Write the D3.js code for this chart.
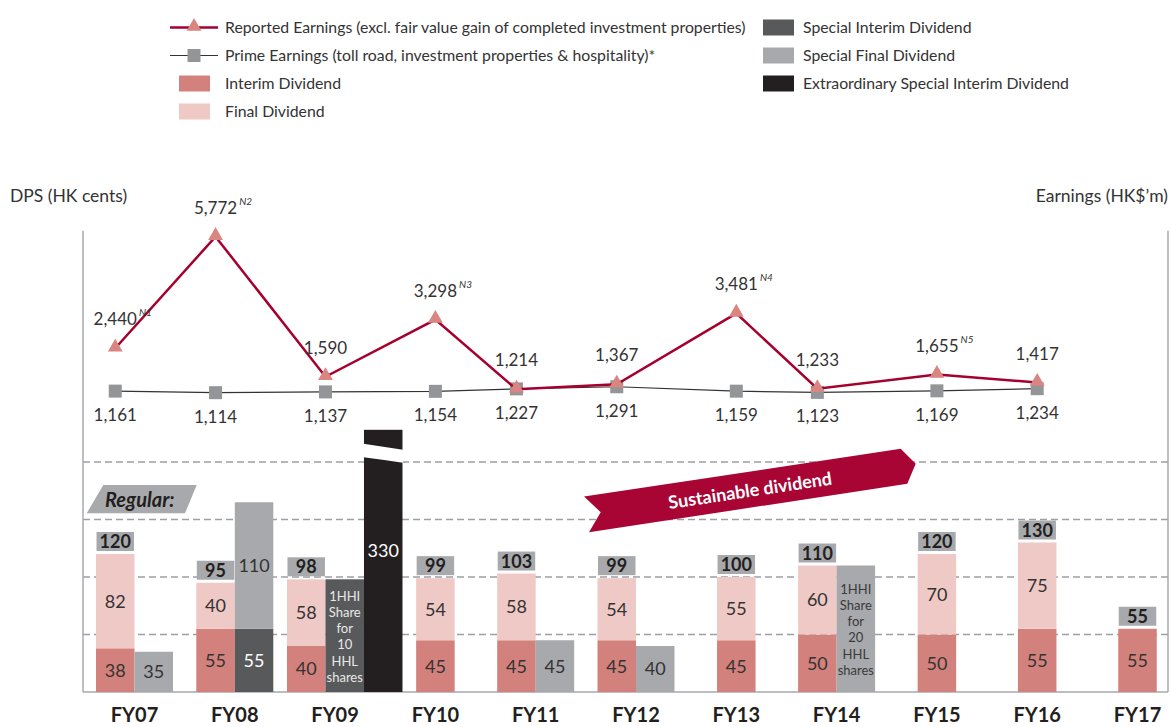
<!DOCTYPE html>
<head>
  <meta charset="utf-8">
  <script src="https://cdn.jsdelivr.net/npm/d3@7"></script>
  <style>
    body { margin: 0; background: #fff; }
    svg { font-family: Lato, "Noto Sans", sans-serif; }
  </style>
</head>
<body>
<div id="container"></div>
<script>

  // ---- data ----
  let years = ["FY07", "FY08", "FY09", "FY10", "FY11", "FY12", "FY13", "FY14", "FY15", "FY16", "FY17"];
  let interim = [38, 55, 40, 45, 45, 45, 45, 50, 50, 55, 55];
  let finalDiv = [82, 40, 58, 54, 58, 54, 55, 60, 70, 75, 0];
  let regularTotal = [120, 95, 98, 99, 103, 99, 100, 110, 120, 130, 55];
  let specialInterim = [0, 55, 98, 0, 0, 0, 0, 0, 0, 0, 0];
  let specialFinal = [35, 110, 0, 0, 45, 40, 0, 110, 0, 0, 0];
  let specialNote = ["", "", "1HHI|Share|for|10|HHL|shares", "", "", "", "", "1HHI|Share|for|20|HHL|shares", "", "", ""];
  let extraordinary = [0, 0, 330, 0, 0, 0, 0, 0, 0, 0, 0];

  let earnYears = ["FY07", "FY08", "FY09", "FY10", "FY11", "FY12", "FY13", "FY14", "FY15", "FY16"];
  let reported = [2440, 5772, 1590, 3298, 1214, 1367, 3481, 1233, 1655, 1417];
  let reportedNote = ["N1", "N2", "", "N3", "", "", "N4", "", "N5", ""];
  let prime = [1161, 1114, 1137, 1154, 1227, 1291, 1159, 1123, 1169, 1234];

  let gridValues = [50, 100, 150, 200];
  let breakCap = 228;   // the 330 bar is drawn cut off at this height

  let colors = {
    interim: "#d3817c",
    final: "#efc9c5",
    specialInterim: "#58595b",
    specialFinal: "#a7a9ac",
    extra: "#231f20",
    reportedLine: "#a6002f",
    reportedMark: "#d98581",
    primeLine: "#333333",
    primeMark: "#939598",
    banner: "#a80535",
    text: "#333333"
  };

  let svg_width = 1171;
  let svg_height = 727;
  let axisLeft = 83;
  let axisRight = 1168;
  let bw = 38.5;

  let svg = d3.select("#container").append("svg")
          .attr("width", svg_width)
          .attr("height", svg_height);

  let xScale = d3.scalePoint()
          .domain(years)
          .range([134.5, 1137.5]);

  let yBar = d3.scaleLinear()
          .domain([0, 200])
          .range([692, 462]);

  let yEarn = d3.scaleLinear()
          .domain([0, 6000])
          .range([430, 229]);

  // left edge of the regular column for each year
  let colLeft = function (i) {
    let ncol = (specialInterim[i] > 0 || specialFinal[i] > 0) ? 2 : 1;
    if (extraordinary[i] > 0) ncol = ncol + 0.5;
    return xScale(years[i]) - ncol * bw / 2;
  };

  // ---- grid & frame ----
  svg.selectAll(".grid")
          .data(gridValues)
          .enter()
          .append("line")
          .attr("x1", axisLeft)
          .attr("x2", axisRight)
          .attr("y1", function (d) { return yBar(d) })
          .attr("y2", function (d) { return yBar(d) })
          .attr("stroke", "#9d9fa2")
          .attr("stroke-width", 1.3)
          .attr("stroke-dasharray", "7,4");

  svg.append("line")
          .attr("x1", axisLeft).attr("x2", axisRight)
          .attr("y1", yBar(0)).attr("y2", yBar(0))
          .attr("stroke", "#a7a9ac").attr("stroke-width", 1.5);

  [axisLeft, axisRight].forEach(function (x) {
    svg.append("line")
            .attr("x1", x).attr("x2", x)
            .attr("y1", yEarn(5950)).attr("y2", yBar(0))
            .attr("stroke", "#a7a9ac").attr("stroke-width", 1.5);
  });

  // ---- bars ----
  let segs = [];
  years.forEach(function (y, i) {
    let left = colLeft(i);
    segs.push({x: left, y0: 0, y1: interim[i], fill: colors.interim, label: interim[i], tc: colors.text});
    if (finalDiv[i] > 0) {
      segs.push({x: left, y0: interim[i], y1: interim[i] + finalDiv[i], fill: colors.final, label: finalDiv[i], tc: colors.text});
    }
    let col = 1;
    if (specialInterim[i] > 0 || specialFinal[i] > 0) {
      let sx = left + bw;
      if (specialInterim[i] > 0) {
        segs.push({x: sx, y0: 0, y1: specialInterim[i], fill: colors.specialInterim,
          label: specialNote[i] && specialFinal[i] === 0 ? "" : specialInterim[i], note: specialFinal[i] === 0 ? specialNote[i] : "", tc: "#ffffff"});
      }
      if (specialFinal[i] > 0) {
        segs.push({x: sx, y0: specialInterim[i], y1: specialInterim[i] + specialFinal[i], fill: colors.specialFinal,
          label: specialNote[i] ? "" : specialFinal[i], note: specialNote[i], tc: colors.text});
      }
      col = 2;
    }
    if (extraordinary[i] > 0) {
      segs.push({x: left + col * bw, y0: 0, y1: Math.min(extraordinary[i], breakCap), fill: colors.extra,
        label: extraordinary[i], tc: "#ffffff", broken: true});
    }
  });

  svg.selectAll(".seg")
          .data(segs)
          .enter()
          .append("rect")
          .attr("x", function (d) { return d.x })
          .attr("y", function (d) { return yBar(d.y1) })
          .attr("width", bw)
          .attr("height", function (d) { return yBar(d.y0) - yBar(d.y1) })
          .attr("fill", function (d) { return d.fill });

  // break on the extraordinary bar
  segs.filter(function (d) { return d.broken }).forEach(function (d) {
    let top = yBar(d.y1);
    svg.append("path")
            .attr("d", "M" + (d.x - 0.5) + "," + (top + 14) +
                    " Q" + (d.x + bw / 2) + "," + (top + 17) + " " + (d.x + bw + 0.5) + "," + (top + 20) +
                    " L" + (d.x + bw + 0.5) + "," + (top + 33) +
                    " Q" + (d.x + bw / 2) + "," + (top + 30) + " " + (d.x - 0.5) + "," + (top + 27.5) + " Z")
            .attr("fill", "#ffffff");
  });

  svg.selectAll(".seglabel")
          .data(segs.filter(function (d) { return d.label !== "" }))
          .enter()
          .append("text")
          .attr("x", function (d) { return d.x + bw / 2 })
          .attr("y", function (d) { return (yBar(d.y0) + yBar(d.y1)) / 2 - (d.broken ? 10 : 0) })
          .attr("dy", "0.36em")
          .attr("text-anchor", "middle")
          .style("font-size", "18px")
          .style("fill", function (d) { return d.tc })
          .text(function (d) { return d.label });

  segs.filter(function (d) { return d.note }).forEach(function (d) {
    let lines = d.note.split("|");
    let mid = (yBar(d.y0) + yBar(d.y1)) / 2 + 1;
    let t = svg.append("text")
            .attr("text-anchor", "middle")
            .style("font-size", "13px")
            .style("fill", d.fill === colors.specialInterim ? "#e8e8e8" : "#3a3a3a");
    lines.forEach(function (l, k) {
      t.append("tspan")
              .attr("x", d.x + bw / 2)
              .attr("y", mid + (k - (lines.length - 1) / 2) * 16.2)
              .attr("dy", "0.35em")
              .text(l);
    });
  });

  // total boxes
  years.forEach(function (y, i) {
    let left = colLeft(i);
    let top = yBar(regularTotal[i]) - 3;
    svg.append("rect")
            .attr("x", left + 0.5)
            .attr("y", top - 19)
            .attr("width", bw - 1)
            .attr("height", 19)
            .attr("fill", "#a7a9ac");
    svg.append("text")
            .attr("x", left + bw / 2)
            .attr("y", top - 9.5)
            .attr("dy", "0.37em")
            .attr("text-anchor", "middle")
            .style("font-size", "18px")
            .style("font-weight", "bold")
            .style("fill", "#231f20")
            .text(regularTotal[i]);
  });

  // x labels
  svg.selectAll(".xlab")
          .data(years)
          .enter()
          .append("text")
          .attr("x", function (d) { return xScale(d) })
          .attr("y", 722)
          .attr("text-anchor", "middle")
          .style("font-size", "20px")
          .style("font-weight", "bold")
          .style("fill", "#231f20")
          .text(function (d) { return d });

  // ---- earnings lines ----
  // points sit over the regular column (between columns when the year has the extra bar)
  let lineX = function (i) { return colLeft(i) + bw / 2 + (extraordinary[i] > 0 ? bw / 2 : 0) };

  svg.append("path")
          .datum(prime)
          .attr("fill", "none")
          .attr("stroke", colors.primeLine)
          .attr("stroke-width", 1.2)
          .attr("d", d3.line()
                  .x(function (d, i) { return lineX(i) })
                  .y(function (d) { return yEarn(d) }));

  svg.selectAll(".sq")
          .data(prime)
          .enter()
          .append("rect")
          .attr("x", function (d, i) { return lineX(i) - 6.5 })
          .attr("y", function (d) { return yEarn(d) - 6.5 })
          .attr("width", 13)
          .attr("height", 13)
          .attr("fill", colors.primeMark);

  svg.append("path")
          .datum(reported)
          .attr("fill", "none")
          .attr("stroke", colors.reportedLine)
          .attr("stroke-width", 2.5)
          .attr("d", d3.line()
                  .x(function (d, i) { return lineX(i) })
                  .y(function (d) { return yEarn(d) }));

  let tri = d3.symbol().type(d3.symbolTriangle).size(95);

  svg.selectAll(".tri")
          .data(reported)
          .enter()
          .append("path")
          .attr("d", tri)
          .attr("transform", function (d, i) { return "translate(" + lineX(i) + "," + (yEarn(d) - 1) + ")" })
          .attr("fill", colors.reportedMark);

  reported.forEach(function (v, i) {
    let t = svg.append("text")
            .attr("x", lineX(i))
            .attr("y", yEarn(v) - 23)
            .attr("text-anchor", "middle")
            .style("font-size", "17px")
            .style("fill", colors.text)
            .text(d3.format(",")(v));
    if (reportedNote[i]) {
      let w = t.node().getComputedTextLength();
      svg.append("text")
              .attr("x", lineX(i) + w / 2 + 2)
              .attr("y", yEarn(v) - 32)
              .style("font-size", "10px")
              .style("font-style", "italic")
              .style("fill", colors.text)
              .text(reportedNote[i]);
    }
  });

  svg.selectAll(".plab")
          .data(prime)
          .enter()
          .append("text")
          .attr("x", function (d, i) { return lineX(i) })
          .attr("y", function (d) { return yEarn(d) + 30 })
          .attr("text-anchor", "middle")
          .style("font-size", "17px")
          .style("fill", colors.text)
          .text(function (d) { return d3.format(",")(d) });

  // ---- annotations ----
  let bx = xScale("FY12") - 52;
  let by = yBar(170);
  let banner = svg.append("g").attr("transform", "translate(" + bx + "," + by + ")");
  banner.append("polygon")
          .attr("points", "0,0 316.7,-47.7 331.7,-32.7 323.3,-12.7 5,35.7 16.7,15.7")
          .attr("fill", colors.banner);
  banner.append("text")
          .attr("transform", "translate(166,-6) rotate(-8.6)")
          .attr("text-anchor", "middle")
          .attr("dy", "0.35em")
          .style("font-size", "18px")
          .style("font-weight", "bold")
          .style("fill", "#ffffff")
          .text("Sustainable dividend");

  let ry = yBar(180);
  svg.append("polygon")
          .attr("points", (axisLeft + 20.3) + "," + ry + " " + (axisLeft + 113.7) + "," + ry + " " +
                  (axisLeft + 102) + "," + (ry + 28.3) + " " + (axisLeft + 3.7) + "," + (ry + 28.3))
          .attr("fill", "#a7a9ac");
  svg.append("text")
          .attr("x", axisLeft + 22)
          .attr("y", ry + 21.5)
          .style("font-size", "20px")
          .style("font-weight", "bold")
          .style("font-style", "italic")
          .style("fill", "#231f20")
          .text("Regular:");

  svg.append("text")
          .attr("x", 10)
          .attr("y", 202)
          .style("font-size", "17.5px")
          .style("fill", colors.text)
          .text("DPS (HK cents)");

  svg.append("text")
          .attr("x", axisRight)
          .attr("y", 202)
          .attr("text-anchor", "end")
          .style("font-size", "17.5px")
          .style("fill", colors.text)
          .text("Earnings (HK$\u2019m)");

  // ---- legend ----
  let legLeft = [
    {label: "Reported Earnings (excl. fair value gain of completed investment properties)", kind: "tri"},
    {label: "Prime Earnings (toll road, investment properties & hospitality)*", kind: "sq"},
    {label: "Interim Dividend", kind: "box", fill: colors.interim},
    {label: "Final Dividend", kind: "box", fill: colors.final}
  ];
  let legRight = [
    {label: "Special Interim Dividend", fill: colors.specialInterim},
    {label: "Special Final Dividend", fill: colors.specialFinal},
    {label: "Extraordinary Special Interim Dividend", fill: colors.extra}
  ];

  legLeft.forEach(function (d, i) {
    let cy = 27.5 + i * 28;
    if (d.kind === "tri") {
      svg.append("line").attr("x1", 170).attr("x2", 218).attr("y1", cy).attr("y2", cy)
              .attr("stroke", colors.reportedLine).attr("stroke-width", 2.5);
      svg.append("path").attr("d", tri).attr("transform", "translate(194," + (cy - 1) + ")")
              .attr("fill", colors.reportedMark);
    } else if (d.kind === "sq") {
      svg.append("line").attr("x1", 170).attr("x2", 218).attr("y1", cy).attr("y2", cy)
              .attr("stroke", colors.primeLine).attr("stroke-width", 1.2);
      svg.append("rect").attr("x", 187.5).attr("y", cy - 6.5).attr("width", 13).attr("height", 13)
              .attr("fill", colors.primeMark);
    } else {
      svg.append("rect").attr("x", 179).attr("y", cy - 8).attr("width", 31).attr("height", 16)
              .attr("fill", d.fill);
    }
    svg.append("text").attr("x", 225).attr("y", cy).attr("dy", "0.35em")
            .style("font-size", "15.8px").style("fill", colors.text).text(d.label);
  });

  legRight.forEach(function (d, i) {
    let cy = 27.5 + i * 28;
    svg.append("rect").attr("x", 763).attr("y", cy - 8).attr("width", 31).attr("height", 16)
            .attr("fill", d.fill);
    svg.append("text").attr("x", 803).attr("y", cy).attr("dy", "0.35em")
            .style("font-size", "15.8px").style("fill", colors.text).text(d.label);
  });

</script>
</body>
